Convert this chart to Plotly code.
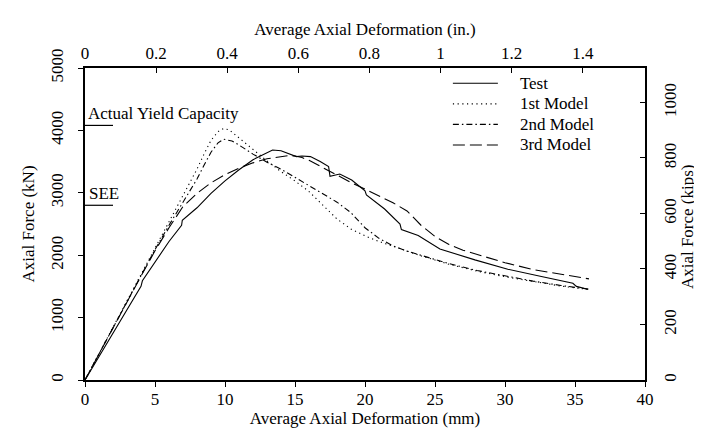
import plotly.graph_objects as go

# ---------------- data ----------------
test_mm = [0, 1, 2, 3, 4, 4.1, 5, 6, 6.9, 6.95, 8, 9, 10, 11, 12, 13, 13.4, 14, 14.6, 15.1, 15.5,
           16.1, 16.8, 17.4, 17.5, 18.2, 19.05, 20.0, 20.1, 21.4, 22.5, 22.6, 23.8, 25.35, 27.85,
           30.2, 32.6, 34.85, 35.1, 35.9]
test_kN = [0, 375, 750, 1120, 1500, 1590, 1880, 2220, 2480, 2560, 2760, 2990, 3190, 3370, 3530,
           3650, 3685, 3675, 3630, 3580, 3590, 3580, 3500, 3420, 3265, 3300, 3205, 3030, 2965,
           2740, 2500, 2410, 2315, 2100, 1925, 1775, 1660, 1550, 1500, 1455]

m1_mm = [0, 1, 2, 3, 4, 5, 6, 7, 8, 8.5, 9, 9.5, 9.9, 10.3, 11, 12, 13, 14, 15, 16, 17, 18, 19,
         20, 21, 22, 23, 24, 26, 28, 30, 32, 34, 36]
m1_kN = [0, 425, 850, 1275, 1700, 2120, 2540, 2960, 3380, 3620, 3840, 3980, 4030, 4010, 3880,
         3690, 3510, 3340, 3190, 3020, 2800, 2580, 2420, 2310, 2220, 2140, 2060, 1990, 1855,
         1745, 1655, 1575, 1505, 1450]

m2_mm = [0, 1, 2, 3, 4, 5, 6, 7, 8, 8.5, 9, 9.5, 9.9, 10.5, 11, 12, 13, 14, 15, 16, 17, 18, 19,
         19.5, 20, 21, 22, 23, 24, 26, 28, 30, 32, 34, 36]
m2_kN = [0, 420, 840, 1260, 1680, 2090, 2480, 2850, 3220, 3440, 3650, 3800, 3860, 3830, 3765,
         3620, 3490, 3380, 3250, 3120, 2990, 2850, 2680, 2560, 2440, 2270, 2150, 2065, 1995,
         1865, 1755, 1665, 1585, 1515, 1455]

m3_mm = [0, 1, 2, 3, 4, 5, 6, 7, 8, 9, 10, 11, 12, 13, 14, 14.5, 15, 15.5, 16, 17, 18, 19, 20,
         21, 22, 23, 24, 25, 26, 27, 28, 30, 32, 34, 36]
m3_kN = [0, 420, 840, 1255, 1665, 2070, 2440, 2780, 2990, 3160, 3290, 3395, 3480, 3545, 3585,
         3595, 3590, 3565, 3520, 3400, 3280, 3165, 3060, 2950, 2840, 2710, 2480, 2300, 2170,
         2080, 2010, 1880, 1770, 1690, 1620]

series_names = ["Test", "1st Model", "2nd Model", "3rd Model"]

yield_capacity_kN = 4080
see_kN = 2800
ref_line_mm = [0, 2.0]

x_ticks_mm = [0, 5, 10, 15, 20, 25, 30, 35, 40]
y_ticks_kN = [0, 1000, 2000, 3000, 4000, 5000]
x_ticks_in = [0, 0.2, 0.4, 0.6, 0.8, 1.0, 1.2, 1.4]
x_ticktext_in = ["0", "0.2", "0.4", "0.6", "0.8", "1", "1.2", "1.4"]
y_ticks_kips = [0, 200, 400, 600, 800, 1000]

MM_PER_IN = 25.4
KN_PER_KIP = 4.448

FONT = "Liberation Serif, Times New Roman, serif"
FS = 17
LW = 1.1
PAD = "\u00a0" * 4

fig = go.Figure()
styles = [None, "1.2px,3.5px", "6px,3px,1.5px,3px", "12px,5px"]
for name, xs, ys, dash in zip(series_names, [test_mm, m1_mm, m2_mm, m3_mm],
                              [test_kN, m1_kN, m2_kN, m3_kN], styles):
    line = dict(color="black", width=LW)
    if dash:
        line["dash"] = dash
    label = '<span style="font-size:17px">' + PAD + name + "</span>"
    fig.add_trace(go.Scatter(x=xs, y=ys, mode="lines", name=label, line=line))

# reference level lines
fig.add_trace(go.Scatter(x=ref_line_mm, y=[yield_capacity_kN] * 2, mode="lines",
                         line=dict(color="black", width=1.2), showlegend=False, hoverinfo="skip"))
fig.add_trace(go.Scatter(x=ref_line_mm, y=[see_kN] * 2, mode="lines",
                         line=dict(color="black", width=1.2), showlegend=False, hoverinfo="skip"))

# invisible trace on secondary (imperial) axes
fig.add_trace(go.Scatter(x=[v / MM_PER_IN for v in test_mm], y=[v / KN_PER_KIP for v in test_kN],
                         xaxis="x2", yaxis="y2", mode="lines",
                         line=dict(color="rgba(0,0,0,0)", width=0), showlegend=False,
                         hoverinfo="skip"))

fig.add_annotation(x=0, y=yield_capacity_kN, xref="x", yref="y", text="Actual Yield Capacity",
                   showarrow=False, xanchor="left", yanchor="bottom", xshift=1, yshift=0,
                   font=dict(family=FONT, size=FS, color="black"))
fig.add_annotation(x=0, y=see_kN, xref="x", yref="y", text="SEE",
                   showarrow=False, xanchor="left", yanchor="bottom", xshift=2, yshift=0,
                   font=dict(family=FONT, size=FS, color="black"))
# right-hand axis title
fig.add_annotation(x=1.0, y=0.49, xref="paper", yref="paper", text="Axial Force (kips)",
                   showarrow=False, textangle=-90, xanchor="center", yanchor="middle",
                   xshift=42,
                   font=dict(family=FONT, size=FS, color="black"))

axis_common = dict(showgrid=False, zeroline=False, showline=True, linecolor="black",
                   linewidth=2, ticklen=5, tickwidth=1.2, tickcolor="black",
                   tickfont=dict(family=FONT, size=FS, color="black"))

fig.update_layout(
    width=702, height=446,
    margin=dict(l=77, r=65, t=60, b=74),
    paper_bgcolor="white", plot_bgcolor="white",
    font=dict(family=FONT, size=FS, color="black"),
    showlegend=True,
    legend=dict(x=0.648, y=1.0, xanchor="left", yanchor="top", bgcolor="rgba(0,0,0,0)",
                font=dict(family=FONT, size=13.5, color="black"), itemwidth=45,
                tracegroupgap=0),
    xaxis=dict(range=[0, 40], tickvals=x_ticks_mm, ticks="outside", ticklabelstandoff=-2,
               title=dict(text="Average Axial Deformation (mm)", standoff=2,
                          font=dict(family=FONT, size=FS)), **axis_common),
    yaxis=dict(range=[0, 5000], tickvals=y_ticks_kN, ticks="outside", tickangle=-90,
               ticklabelstandoff=8,
               title=dict(text="Axial Force (kN)", standoff=9,
                          font=dict(family=FONT, size=FS)), **axis_common),
    xaxis2=dict(range=[0, 40 / MM_PER_IN], overlaying="x", side="top", anchor="y",
                tickvals=x_ticks_in, ticktext=x_ticktext_in, ticks="inside",
                title=dict(text="Average Axial Deformation (in.)", standoff=4,
                           font=dict(family=FONT, size=FS)), **axis_common),
    yaxis2=dict(range=[0, 5000 / KN_PER_KIP], overlaying="y", side="right", anchor="x",
                tickvals=y_ticks_kips, ticks="inside", tickangle=-90, ticklabelstandoff=9,
                **axis_common),
)

fig.write_html("out.html")
